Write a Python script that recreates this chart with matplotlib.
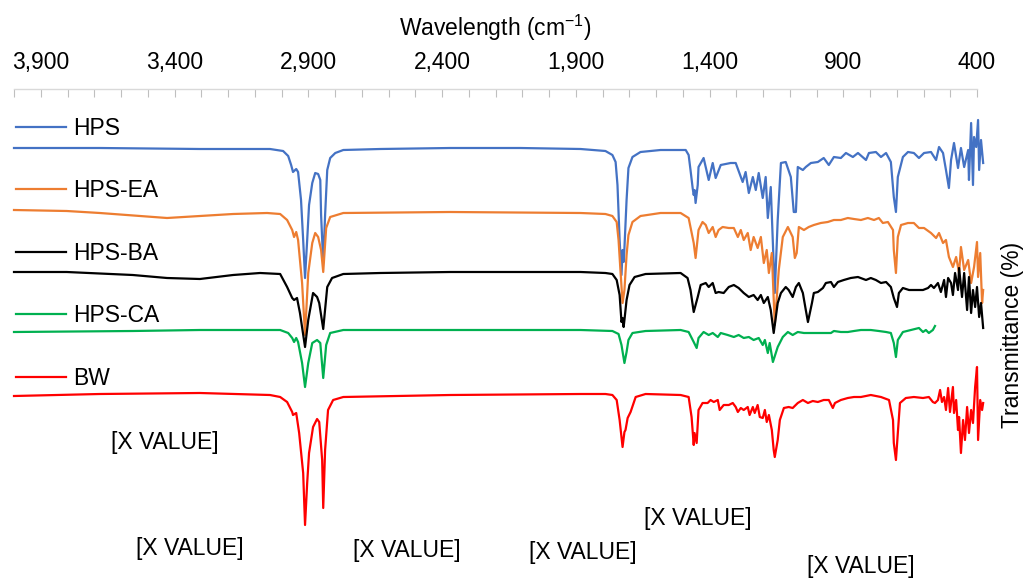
import matplotlib
matplotlib.use("Agg")
import matplotlib.pyplot as plt
from matplotlib.ticker import FixedLocator, FuncFormatter
from matplotlib.lines import Line2D

plt.rcParams['font.family'] = ['Liberation Sans', 'DejaVu Sans']
plt.rcParams['mathtext.fontset'] = 'custom'
plt.rcParams['mathtext.rm'] = 'Liberation Sans'
plt.rcParams['mathtext.it'] = 'Liberation Sans'

# ---------------- data (wavenumber cm-1, transmittance %, offset spectra) ----------------
series_names = ["HPS", "HPS-EA", "HPS-BA", "HPS-CA", "BW"]
series_colors = ["#4472C4", "#ED7D31", "#000000", "#00B050", "#FF0000"]

hps_w = [4000, 3679, 3305, 3043, 2994, 2975, 2964, 2957, 2945, 2938, 2927, 2919, 2912, 2904, 2897, 2885, 2874, 2863,
         2855, 2852, 2844, 2837, 2829, 2818, 2799, 2769, 2631, 2369, 2107, 1882, 1789, 1763, 1751, 1744, 1736, 1729,
         1725, 1721, 1718, 1710, 1703, 1688, 1658, 1583, 1489, 1478, 1471, 1463, 1459, 1456, 1452, 1444, 1441, 1422,
         1403, 1388, 1377, 1358, 1321, 1302, 1276, 1265, 1253, 1238, 1227, 1216, 1201, 1190, 1182, 1171, 1156, 1145,
         1133, 1115, 1096, 1085, 1077, 1070, 1051, 1040, 1021, 995, 973, 954, 935, 909, 890, 864, 845, 815, 804, 778,
         759, 740, 722, 711, 703, 696, 677, 658, 636, 617, 598, 572, 553, 542, 527, 516, 505, 497, 486, 471, 460, 448,
         433, 430, 422, 415, 411, 403, 396, 392, 385, 377]
hps_t = [86.4, 86.4, 86.2, 86.2, 85.8, 84.8, 83.0, 81.6, 82.2, 81.6, 76.0, 68.0, 60.4, 68.0, 75.0, 79.4, 81.4, 81.2,
         80.0, 73.0, 63.4, 73.0, 82.0, 84.4, 85.4, 86.0, 86.2, 86.4, 86.4, 86.2, 85.8, 85.0, 83.6, 79.0, 68.0, 61.0,
         66.0, 63.6, 66.4, 76.0, 82.4, 84.6, 85.6, 86.0, 86.0, 85.0, 82.0, 78.4, 77.0, 78.0, 75.4, 79.0, 82.6, 84.4,
         80.0, 83.4, 80.4, 83.0, 83.4, 83.4, 79.6, 81.6, 77.4, 80.6, 78.0, 81.4, 76.4, 80.6, 72.4, 78.6, 57.4, 72.0,
         83.4, 83.6, 80.6, 73.6, 73.6, 82.6, 82.0, 82.6, 83.4, 83.6, 84.4, 83.0, 84.6, 84.4, 85.4, 84.6, 85.4, 84.0,
         85.4, 85.6, 84.6, 85.4, 83.6, 76.6, 73.6, 80.6, 84.6, 85.6, 85.4, 84.4, 85.4, 85.6, 84.0, 86.6, 85.4, 82.0,
         78.4, 84.0, 87.4, 82.4, 86.4, 82.6, 86.0, 80.0, 91.4, 79.0, 88.6, 86.6, 92.0, 82.0, 88.0, 83.4]

ea_w = [4000, 3803, 3679, 3428, 3305, 3181, 3054, 3005, 2979, 2960, 2953, 2945, 2938, 2923, 2912, 2900, 2885, 2874,
        2863, 2852, 2844, 2833, 2818, 2769, 2369, 1882, 1789, 1763, 1747, 1740, 1733, 1725, 1718, 1710, 1703, 1688,
        1658, 1583, 1508, 1478, 1459, 1452, 1441, 1426, 1414, 1403, 1388, 1377, 1366, 1351, 1328, 1309, 1294, 1283,
        1272, 1257, 1246, 1235, 1220, 1208, 1197, 1186, 1178, 1167, 1156, 1141, 1126, 1107, 1089, 1081, 1074, 1066,
        1047, 1029, 1010, 984, 958, 935, 909, 883, 860, 834, 808, 785, 767, 752, 733, 714, 711, 703, 696, 684, 658,
        636, 617, 598, 572, 553, 542, 527, 516, 505, 490, 478, 467, 460, 448, 433, 422, 411, 400, 396, 388, 381, 377]
ea_t = [74.0, 73.8, 73.4, 72.4, 72.8, 73.2, 73.4, 73.2, 72.0, 70.0, 68.6, 69.6, 68.0, 59.4, 49.0, 61.4, 67.4, 69.4,
        68.6, 66.0, 61.6, 70.4, 72.6, 73.4, 73.6, 73.4, 73.2, 72.8, 71.6, 68.0, 62.0, 55.4, 58.0, 65.0, 69.0, 71.6,
        72.8, 73.4, 73.4, 72.4, 67.4, 64.4, 70.0, 71.6, 71.0, 69.4, 70.6, 68.6, 70.0, 70.6, 70.4, 70.4, 68.6, 70.0,
        68.0, 69.4, 66.0, 68.6, 66.4, 68.6, 63.4, 66.0, 61.4, 65.4, 51.0, 62.0, 68.6, 70.6, 68.6, 64.4, 65.4, 70.6,
        70.0, 70.6, 71.0, 71.4, 71.6, 72.0, 72.0, 72.4, 72.2, 72.0, 72.4, 72.0, 72.4, 71.4, 71.6, 70.0, 66.0, 61.4,
        68.6, 71.0, 71.4, 71.4, 70.4, 70.4, 69.4, 68.4, 69.4, 67.4, 68.0, 64.6, 62.6, 64.6, 61.4, 66.6, 62.0, 64.0,
        59.4, 62.6, 67.6, 60.6, 65.4, 55.4, 58.0]

ba_w = [4000, 3803, 3556, 3428, 3305, 3181, 3080, 3005, 2979, 2960, 2953, 2942, 2931, 2912, 2900, 2882, 2867, 2859,
        2844, 2829, 2811, 2769, 2631, 2369, 1882, 1789, 1763, 1747, 1736, 1729, 1725, 1721, 1718, 1710, 1699, 1680,
        1639, 1508, 1482, 1471, 1459, 1444, 1433, 1414, 1403, 1388, 1377, 1366, 1347, 1328, 1309, 1291, 1272, 1253,
        1235, 1220, 1208, 1197, 1182, 1171, 1160, 1145, 1133, 1115, 1104, 1089, 1077, 1066, 1051, 1040, 1032, 1017,
        1010, 995, 976, 965, 946, 935, 920, 898, 872, 845, 815, 797, 778, 759, 740, 722, 711, 699, 692, 677, 654, 628,
        602, 583, 572, 561, 546, 535, 523, 516, 508, 497, 490, 482, 471, 467, 456, 448, 437, 430, 422, 415, 407, 400,
        392, 385, 377]
ba_t = [61.6, 61.6, 61.0, 60.4, 60.2, 61.0, 61.4, 61.2, 58.6, 56.4, 56.0, 56.4, 53.4, 46.6, 52.0, 57.4, 56.6, 55.4,
        50.2, 58.6, 60.4, 61.2, 61.4, 61.6, 61.6, 61.4, 61.2, 60.0, 57.0, 51.6, 52.4, 50.6, 52.0, 56.0, 59.0, 60.6,
        61.2, 61.4, 60.4, 58.0, 53.6, 56.6, 59.0, 59.4, 58.6, 59.4, 57.4, 57.6, 57.4, 58.6, 59.0, 58.4, 57.4, 56.6,
        57.0, 56.0, 57.0, 55.4, 56.6, 54.0, 49.4, 55.4, 57.4, 58.6, 58.0, 56.6, 58.6, 59.4, 57.4, 54.0, 51.6, 55.4,
        57.4, 57.6, 58.4, 59.4, 59.6, 58.6, 59.6, 60.0, 60.4, 60.6, 60.0, 60.4, 60.0, 59.4, 59.6, 58.6, 56.4, 54.6,
        57.4, 58.4, 58.0, 58.0, 58.0, 58.4, 59.0, 58.4, 59.4, 57.6, 60.0, 56.6, 60.4, 59.4, 57.0, 61.4, 58.0, 62.4,
        56.6, 61.4, 54.0, 60.6, 53.4, 58.0, 54.6, 58.6, 52.6, 55.4, 50.4]

ca_w = [4000, 3556, 3305, 3005, 2975, 2960, 2953, 2945, 2938, 2923, 2912, 2900, 2885, 2867, 2855, 2844, 2833, 2818,
        2769, 2369, 1882, 1763, 1740, 1729, 1718, 1710, 1703, 1688, 1639, 1508, 1478, 1459, 1448, 1441, 1422, 1403,
        1388, 1369, 1358, 1332, 1309, 1291, 1272, 1253, 1235, 1216, 1201, 1193, 1182, 1175, 1163, 1145, 1126, 1107,
        1089, 1070, 1047, 1021, 995, 973, 946, 935, 909, 883, 860, 834, 797, 767, 740, 722, 711, 703, 696, 677, 647,
        617, 602, 591, 580, 565, 557]
ca_t = [49.6, 49.8, 50.0, 50.0, 49.4, 48.4, 47.6, 48.4, 47.6, 43.4, 38.6, 43.4, 47.4, 48.0, 47.4, 40.4, 47.0, 49.4,
        50.0, 50.0, 50.0, 49.8, 49.2, 47.0, 43.4, 45.6, 48.0, 49.4, 49.8, 50.0, 49.6, 47.6, 46.4, 48.4, 49.6, 49.0,
        49.4, 48.6, 49.4, 49.0, 48.6, 49.0, 48.4, 48.6, 48.0, 48.4, 47.0, 48.0, 45.4, 47.4, 43.6, 46.6, 48.6, 49.6,
        49.0, 49.6, 49.4, 49.4, 49.4, 49.4, 49.4, 49.8, 49.6, 49.6, 49.8, 50.0, 50.0, 49.8, 49.6, 49.4, 47.4, 44.6,
        48.0, 49.6, 50.0, 50.4, 49.6, 50.0, 49.4, 50.0, 50.8]

bw_w = [4000, 3679, 3305, 3043, 3005, 2979, 2960, 2957, 2945, 2934, 2919, 2912, 2904, 2897, 2882, 2867, 2859, 2848,
        2844, 2837, 2826, 2807, 2769, 2369, 1882, 1789, 1763, 1747, 1736, 1725, 1718, 1714, 1706, 1695, 1676, 1639,
        1508, 1478, 1467, 1459, 1456, 1448, 1441, 1426, 1407, 1396, 1384, 1369, 1362, 1347, 1328, 1313, 1302, 1294,
        1283, 1272, 1257, 1250, 1238, 1231, 1220, 1212, 1201, 1193, 1186, 1178, 1167, 1160, 1156, 1145, 1137, 1122,
        1104, 1089, 1070, 1051, 1032, 1014, 995, 973, 954, 939, 931, 909, 883, 860, 834, 797, 759, 729, 714, 711, 703,
        696, 688, 666, 636, 602, 580, 565, 557, 546, 538, 531, 523, 516, 508, 501, 490, 486, 478, 471, 467, 460, 452,
        445, 437, 430, 422, 415, 407, 400, 396, 388, 381, 377]
bw_t = [36.8, 37.2, 37.4, 37.0, 36.6, 35.6, 33.6, 33.0, 33.4, 29.4, 21.4, 11.0, 19.4, 25.4, 30.6, 32.2, 31.6, 24.0,
        14.4, 26.0, 34.0, 36.0, 36.6, 37.0, 37.2, 37.2, 37.0, 36.0, 32.0, 26.6, 29.6, 30.0, 32.4, 33.6, 36.6, 37.2,
        37.0, 36.6, 32.6, 27.0, 29.4, 27.4, 34.0, 35.4, 35.4, 36.0, 35.6, 36.0, 34.0, 35.0, 35.0, 35.4, 34.6, 33.6,
        34.4, 34.0, 34.6, 33.0, 34.6, 33.4, 35.0, 32.6, 32.4, 34.0, 31.6, 33.0, 30.0, 26.0, 24.6, 28.0, 32.0, 34.4,
        34.6, 34.4, 35.4, 36.0, 35.4, 35.8, 35.6, 36.0, 36.0, 34.4, 35.4, 36.0, 36.4, 36.6, 36.6, 37.0, 36.6, 36.0,
        32.0, 27.4, 24.0, 29.4, 35.4, 36.4, 36.6, 36.4, 36.6, 35.6, 35.4, 36.0, 38.0, 35.6, 36.6, 34.0, 38.4, 33.6,
        38.6, 33.4, 36.0, 30.0, 32.6, 25.4, 32.0, 28.0, 34.6, 29.4, 34.0, 31.4, 38.6, 42.6, 28.0, 36.0, 34.0, 35.4]

# tick labels on the top wavenumber axis
tick_labels = [3900, 3400, 2900, 2400, 1900, 1400, 900, 400]
minor_ticks = list(range(4000, 399, -100))

# broken Excel data-label placeholders
label_text = "[X VALUE]"
label_w = [3436, 3342, 2530, 1875, 1444, 834]
label_t = [27.4, 6.4, 5.8, 5.6, 12.4, 2.6]

# ---------------- figure ----------------
FS = 16.5
fig = plt.figure(figsize=(10.27, 5.80), dpi=100)
ax = fig.add_axes([14 / 1027, 0.0, 963 / 1027, 1 - 89 / 580])

xs = [hps_w, ea_w, ba_w, ca_w, bw_w]
ys = [hps_t, ea_t, ba_t, ca_t, bw_t]
handles = []
for w, t, name, col in zip(xs, ys, series_names, series_colors):
    ax.plot(w, t, color=col, lw=1.6, label=name, clip_on=False, solid_joinstyle='round')
    handles.append(Line2D([0], [0], color=col, lw=1.6))

ax.set_xlim(4000, 400)
ax.set_ylim(0, 98.2)

# axis styling
for s in ['left', 'right', 'bottom']:
    ax.spines[s].set_visible(False)
ax.spines['top'].set_color('#d9d9d9')
ax.spines['top'].set_linewidth(1.0)

ax.xaxis.tick_top()
ax.xaxis.set_label_position('top')
ax.xaxis.set_major_locator(FixedLocator(tick_labels))
ax.xaxis.set_minor_locator(FixedLocator(minor_ticks))
ax.xaxis.set_major_formatter(FuncFormatter(lambda v, p: f"{int(v):,}"))
ax.tick_params(axis='x', which='both', direction='in', length=6, width=0.8,
               color='#bfbfbf', top=True, bottom=False)
ax.tick_params(axis='x', which='major', labelsize=FS, pad=11, labelcolor='#000000')
ax.set_xlabel("Wavelength (cm$^{\\mathregular{-1}}$)", fontsize=FS, labelpad=11)

ax.set_yticks([])
ax.yaxis.set_label_position('right')
ax.set_ylabel("Transmittance (%)", fontsize=FS, labelpad=17)

# legend
fig.legend(handles, series_names, loc='upper left', bbox_to_anchor=(16 / 1027, 1 - 117 / 580),
           frameon=False, fontsize=FS, handlelength=2.2, handletextpad=0.3,
           labelspacing=1.72, borderpad=0, borderaxespad=0)

# data labels
for lw_, lt_ in zip(label_w, label_t):
    ax.text(lw_, lt_, label_text, fontsize=FS, ha='center', va='center', color='#000000')

fig.savefig("out.png", dpi=100)
